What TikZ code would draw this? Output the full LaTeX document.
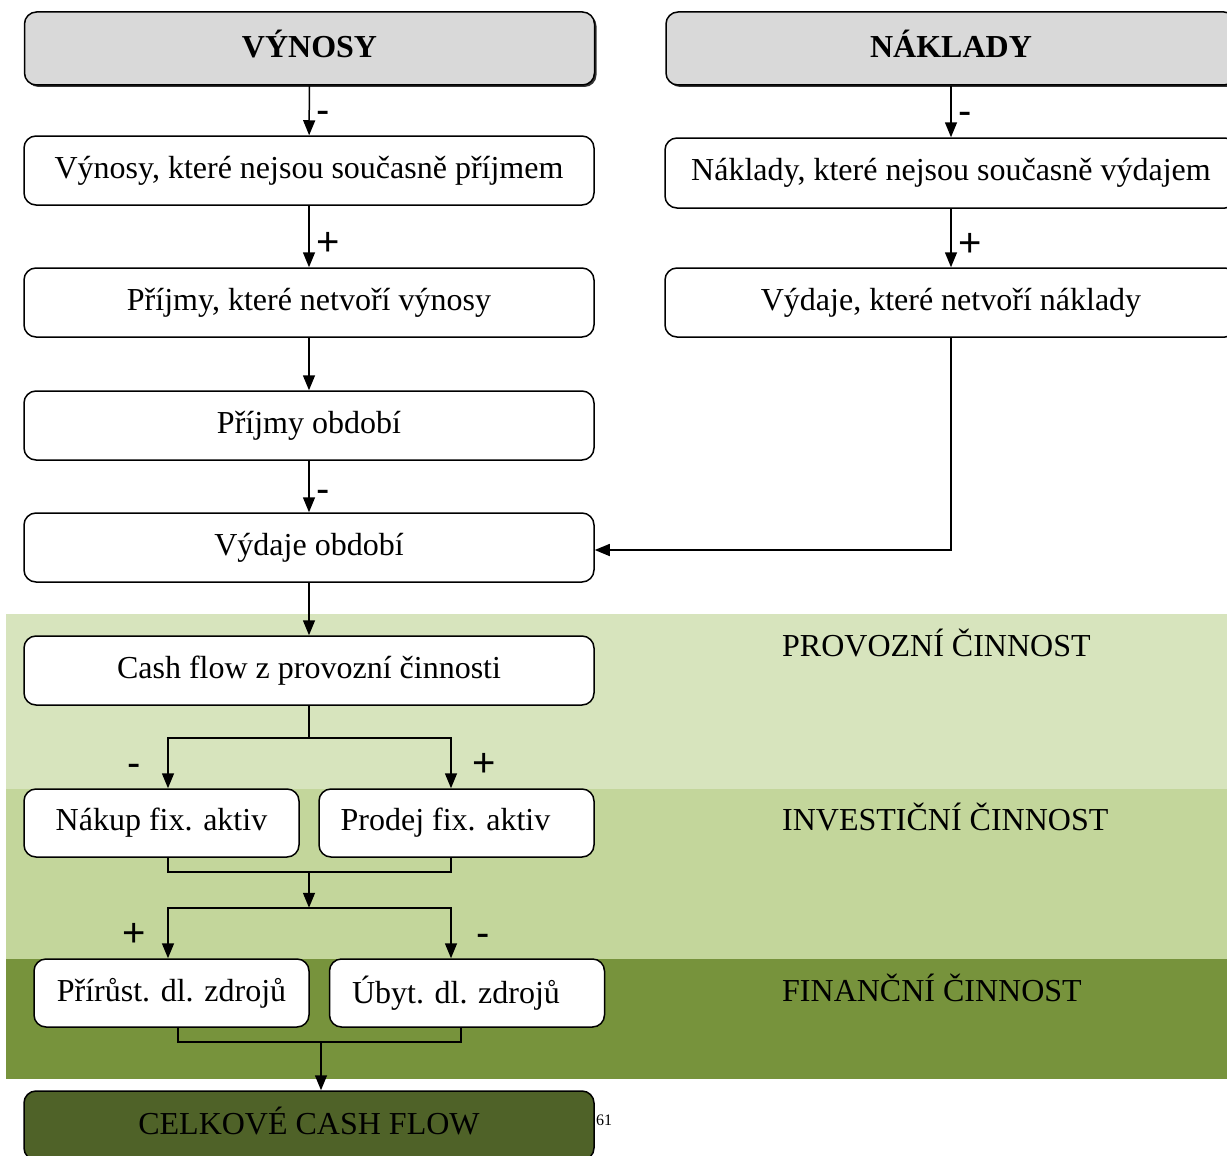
\documentclass[tikz,border=0pt]{standalone}
\usepackage{fontspec}
\setmainfont{Liberation Serif}
\setsansfont{Liberation Sans}
\usetikzlibrary{arrows.meta,shadows,positioning}
\definecolor{headgray}{HTML}{D9D9D9}
\definecolor{provoz}{HTML}{D7E4BD}
\definecolor{invest}{HTML}{C3D69B}
\definecolor{financ}{HTML}{77933C}
\definecolor{celkem}{HTML}{4F6228}

\tikzset{
  box/.style={draw, line width=1.5pt, rounded corners=12pt, fill=white, inner sep=0pt,
    minimum height=69pt, font=\fontsize{32}{38}\selectfont},
  widebox/.style={box, minimum width=570pt},
  halfbox/.style={box, minimum width=275pt, minimum height=68pt},
  lefttext/.style={execute at end node={\hspace*{22pt}}},
  headbox/.style={widebox, minimum height=73pt, fill=headgray, text depth=10pt,
    font=\fontsize{32}{38}\selectfont\bfseries,
    drop shadow={shadow xshift=2pt, shadow yshift=-2pt, fill=black!80, opacity=1}},
  link/.style={line width=1.5pt},
  arr/.style={link, -{Triangle[length=15pt,width=12pt]}},
  sign/.style={inner sep=7pt, text height=0.6em, text depth=0pt, yshift=-10pt,
    font=\fontsize{40}{44}\selectfont\sffamily},
  band/.style={anchor=west, inner sep=0pt, font=\fontsize{32}{38}\selectfont}
}

\begin{document}
\begin{tikzpicture}[x=1pt, y=-1pt]
  \useasboundingbox (0,0) rectangle (1227,1156);
  \clip (0,0) rectangle (1227,1156);
  % Activity bands
  \fill[provoz] (6,614) rectangle (1227,789);
  \fill[invest] (6,789) rectangle (1227,959);
  \fill[financ] (6,959) rectangle (1227,1079);
  \node[band] (lprov) at (782,643) {PROVOZNÍ ČINNOST};
  \node[band] (linv) at (782,817) {INVESTIČNÍ ČINNOST};
  \node[band] (lfin) at (782,988) {FINANČNÍ ČINNOST};

  % Define nodes
  \node[headbox] (vyn) at (309.5,48.5) {VÝNOSY};
  \node[headbox] (nak) at (951,48.5) {NÁKLADY};
  \node[widebox] (vyn1) at (309,170.5) {Výnosy, které nejsou současně příjmem};
  \node[widebox, minimum width=572pt, minimum height=70pt] (nak1) at (951,173) {Náklady, které nejsou současně výdajem};
  \node[widebox] (vyn2) at (309,302.5) {Příjmy, které netvoří výnosy};
  \node[widebox, minimum width=572pt] (nak2) at (951,302.5) {Výdaje, které netvoří náklady};
  \node[widebox] (prij) at (309,425.5) {Příjmy období};
  \node[widebox] (vyd) at (309,547.5) {Výdaje období};
  \node[widebox] (cfp) at (309,670.5) {Cash flow z provozní činnosti};
  \node[halfbox] (nakup) at (161.5,823) {Nákup fix. aktiv};
  \node[halfbox, lefttext] (prodej) at (456.5,823) {Prodej fix. aktiv};
  \node[halfbox] (prir) at (171.5,993) {Přírůst. dl. zdrojů};
  \node[halfbox, lefttext] (ubyt) at (467,993) {Úbyt. dl. zdrojů};
  \node[widebox, fill=celkem, text depth=10pt] (celk) at (309,1125.5) {CELKOVÉ CASH FLOW};
  \node[anchor=west, inner sep=0pt, font=\fontsize{16}{18}\selectfont] (pnum) at (596,1120) {61};

  % Connectors
  \draw[arr] (vyn) -- node[sign, right] {-} (vyn1);
  \draw[arr] (vyn1) -- node[sign, right, pos=0.6] {+} (vyn2);
  \draw[arr] (vyn2) -- (prij);
  \draw[arr] (prij) -- node[sign, right, pos=0.55] {-} (vyd);
  \draw[arr] (nak) -- node[sign, right] {-} (nak1);
  \draw[arr] (nak1) -- node[sign, right, pos=0.6] {+} (nak2);
  \draw[arr] (nak2) |- ([yshift=-2.5pt]vyd.east);
  \draw[arr] (vyd) -- (cfp);

  \path (cfp.south) ++(0,32) coordinate (cfpj);
  \draw[link] (cfp) -- (cfpj);
  \draw[arr] (cfpj) -| node[sign, left=19pt, pos=0.75] {-} ([xshift=6.5pt]nakup.north);
  \draw[arr] (cfpj) -| node[sign, right=14pt, pos=0.75] {+} ([xshift=-5.5pt]prodej.north);
  \draw[link] ([xshift=6.5pt]nakup.south) -- ++(0,14) coordinate (invj) -| ([xshift=-5.5pt]prodej.south);
  \draw[arr] (invj -| cfpj) -- ++(0,36) coordinate (finj);
  \draw[arr] (finj) -| node[sign, left=14pt, pos=0.75] {+} ([xshift=-3.5pt]prir.north);
  \draw[arr] (finj) -| node[sign, right=18pt, pos=0.75] {-} ([xshift=-16pt]ubyt.north);
  \draw[link] ([xshift=6.5pt]prir.south) -- ++(0,14) coordinate (celj) -| ([xshift=-6pt]ubyt.south);
  \draw[arr] ([xshift=12pt]celk.north |- celj) -- ([xshift=12pt]celk.north);
\end{tikzpicture}
\end{document}
